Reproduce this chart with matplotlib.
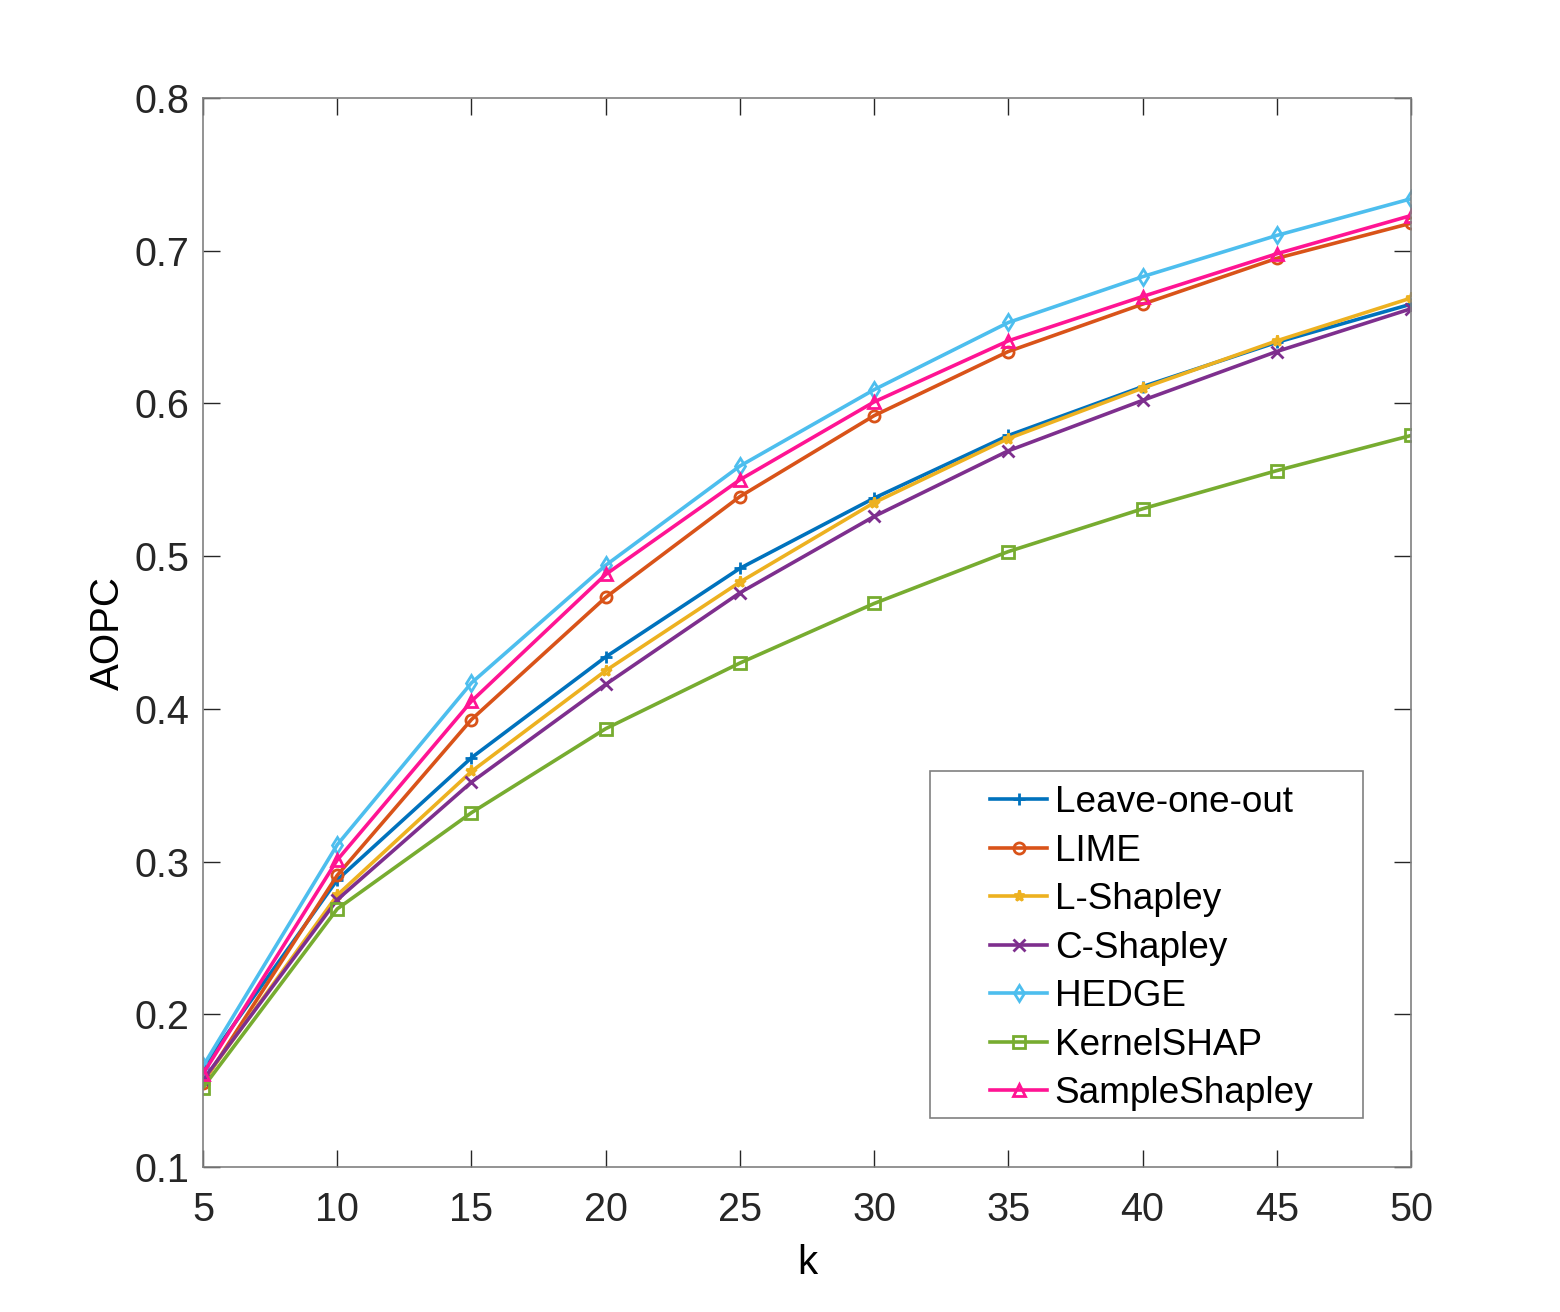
import matplotlib
matplotlib.use("Agg")
import matplotlib.pyplot as plt
from matplotlib.patches import Rectangle

# AOPC per top-k
k = [5, 10, 15, 20, 25, 30, 35, 40, 45, 50]
leave_one_out = [0.165, 0.288, 0.368, 0.434, 0.492, 0.538, 0.579, 0.611, 0.640, 0.665]
lime = [0.155, 0.291, 0.393, 0.473, 0.539, 0.592, 0.634, 0.665, 0.695, 0.718]
l_shapley = [0.156, 0.278, 0.359, 0.425, 0.483, 0.535, 0.577, 0.610, 0.641, 0.669]
c_shapley = [0.157, 0.275, 0.352, 0.416, 0.476, 0.526, 0.569, 0.602, 0.634, 0.662]
hedge = [0.166, 0.311, 0.417, 0.494, 0.559, 0.609, 0.653, 0.683, 0.710, 0.734]
kernel_shap = [0.152, 0.269, 0.332, 0.387, 0.430, 0.469, 0.503, 0.531, 0.556, 0.579]
sample_shapley = [0.161, 0.301, 0.405, 0.488, 0.550, 0.601, 0.641, 0.670, 0.698, 0.723]

labels = ["Leave-one-out", "LIME", "L-Shapley", "C-Shapley", "HEDGE",
          "KernelSHAP", "SampleShapley"]
series = [leave_one_out, lime, l_shapley, c_shapley, hedge, kernel_shap,
          sample_shapley]
colors = ["#0072BD", "#D95319", "#EDB120", "#7E2F8E", "#4DBEEE", "#77AC30",
          "#FF1493"]
markers = ["+", "o", "*", "x", "d", "s", "^"]

TXT = "#262626"
AXC = "#808080"

plt.rcParams.update({
    "font.family": ["Liberation Sans", "DejaVu Sans"],
    "text.color": TXT,
    "xtick.color": TXT, "ytick.color": TXT,
    "xtick.labelcolor": TXT, "ytick.labelcolor": TXT,
})

fig = plt.figure(figsize=(15.6, 13.12), dpi=100)
ax = fig.add_axes([203 / 1560, 1 - 1167 / 1312, 1208 / 1560, 1069 / 1312])

for y, lab, c, m in zip(series, labels, colors, markers):
    ax.plot(k, y, color=c, lw=2.6, marker=m, ms=8, mew=2.0,
            mfc="none", label=lab)

ax.set_xlim(5, 50)
ax.set_ylim(0.1, 0.8)
ax.set_xticks(k)
ax.set_yticks([0.1, 0.2, 0.3, 0.4, 0.5, 0.6, 0.7, 0.8])
ax.set_yticklabels(["0.1", "0.2", "0.3", "0.4", "0.5", "0.6", "0.7", "0.8"])
ax.tick_params(direction="in", length=12, width=1, labelsize=28.5,
               top=True, right=True, color=TXT)
ax.tick_params(axis="x", pad=17)
ax.tick_params(axis="y", pad=10)
for s in ax.spines.values():
    s.set_color(AXC)
    s.set_linewidth(1.2)

ax.set_xlabel("k", fontsize=29, labelpad=11)
ax.set_ylabel("AOPC", fontsize=29, labelpad=5)

# MATLAB-style legend box: wide side margins, drawn by hand
ax.add_patch(Rectangle((0.602, 0.0458), 0.358, 0.3246, transform=ax.transAxes,
                       facecolor="white", edgecolor=AXC, lw=1.2, zorder=4))
leg = ax.legend(loc="upper left", bbox_to_anchor=(0.6515, 0.357), fontsize=26.6,
                frameon=False, handlelength=1.55, handletextpad=0.2,
                labelspacing=0.365, borderpad=0, borderaxespad=0)
leg.set_zorder(5)
for t in leg.get_texts():
    t.set_color("black")

fig.savefig("out.png", dpi=100, facecolor="white")
